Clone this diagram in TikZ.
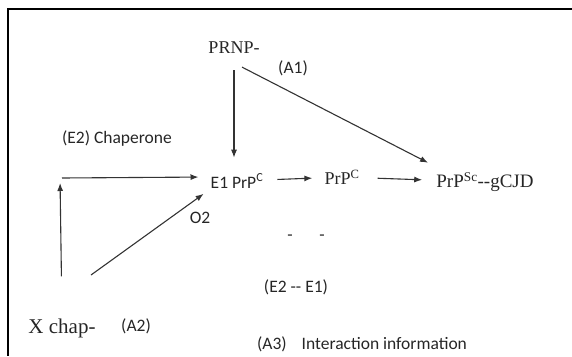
\documentclass[tikz,border=0pt]{standalone}
\usepackage{fontspec}
\setmainfont{Liberation Serif}
\newfontfamily\sanf{Carlito}
\usepackage{tikz}
\usetikzlibrary{arrows.meta}

\begin{document}
\begin{tikzpicture}[x=1pt,y=-1pt,>={Latex[length=8pt,width=6pt]},
    rm/.style={inner sep=2pt,text=black!85,font=\fontsize{18}{20}\selectfont},
    sf/.style={inner sep=2pt,text=black!85,font=\sanf\fontsize{17.5}{19}\selectfont},
    arr/.style={line width=1.1pt,color=black!80}]
    \useasboundingbox (0,0) rectangle (572,356);
    \draw[line width=2.5pt] (7,9) -- (572,9);
    \draw[line width=2.5pt] (8,8) -- (8,356);
    \node[rm] (prnp) at (234,48) {PRNP-};
    \node[sf] (a1) at (293,68) {(A1)};
    \node[sf] (chap) at (117,139) {(E2) Chaperone};
    \node[sf] (e1) at (237,181) {E1 PrP\textsuperscript{C}};
    \node[rm] (prpc) at (342,177) {PrP\textsuperscript{C}};
    \node[rm,font=\fontsize{19}{21}\selectfont] (prpsc) at (485,182) {PrP\textsuperscript{Sc}-{}-gCJD};
    \node[sf] (o2) at (200,218) {O2};
    \node[sf] (d1) at (290,238) {-};
    \node[sf] (d2) at (322,238) {-};
    \node[sf] (e2e1) at (296,287) {(E2 -{}- E1)};
    \node[rm,font=\fontsize{21}{23}\selectfont] (xchap) at (62,328) {X chap-};
    \node[sf] (a2) at (136,326) {(A2)};
    \node[sf] (a3) at (362,344) {(A3)\hspace{15pt}Interaction information};
    \coordinate (cn) at (60,178);
    \coordinate (xd) at (91,275);
    \path [->,arr] (prnp.south) edge[shorten <=14pt,shorten >=14pt] (prnp.south |- e1.north);
    \path [->,arr] ([yshift=-15pt]prnp.center) edge[shorten <=9pt,shorten >=64pt] ([yshift=-10pt]prpsc.center);
    \path [->,arr] (e1) edge[shorten <=12pt,shorten >=10pt] (prpc);
    \path [->,arr] (prpc) edge[shorten <=16pt,shorten >=12pt] (prpsc);
    \path [->,arr] ([xshift=2pt]cn) edge[shorten >=10pt] ([yshift=4pt]e1.west);
    \path [->,arr] (xchap.north) edge[shorten <=40pt,shorten >=5pt] (cn);
    \path [->,arr] (xd) edge[shorten >=6pt] (e1.south west);
\end{tikzpicture}
\end{document}
